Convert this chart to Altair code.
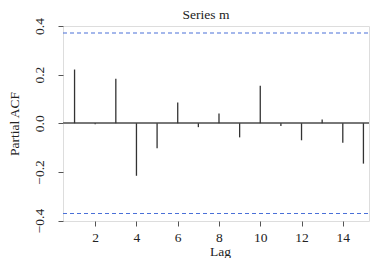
import altair as alt
import pandas as pd

lags = list(range(1, 16))
pacf_vals = [0.221, -0.004, 0.183, -0.216, -0.103, 0.085, -0.016, 0.040,
             -0.058, 0.154, -0.011, -0.070, 0.015, -0.080, -0.166]
conf_limit = 0.371
x_ticks = [2, 4, 6, 8, 10, 12, 14]
y_ticks = [-0.4, -0.2, 0.0, 0.2, 0.4]
title_text = ["Series m"]

df = pd.DataFrame({"lag": lags, "pacf": pacf_vals, "zero": [0.0] * len(lags)})
ci = pd.DataFrame({"c": [conf_limit, -conf_limit]})
tdf = pd.DataFrame({"t": title_text})

FONT = "Liberation Serif"
W, H = 306, 195
xs = alt.Scale(domain=[0.44, 15.27], nice=False, zero=False)
ys = alt.Scale(domain=[-0.402, 0.4], nice=False, zero=False)

xaxis = alt.Axis(values=x_ticks, title="Lag", grid=False, domain=False,
                 tickSize=5, tickColor="#555", tickWidth=1,
                 labelPadding=15, labelBaseline="alphabetic", labelFontSize=13.5,
                 labelFont=FONT, labelColor="#222", titleFont=FONT,
                 titleFontSize=13.5, titleFontWeight="normal", titleColor="#222",
                 titleBaseline="alphabetic", titleY=34.5, titleX=157)
yaxis = alt.Axis(values=y_ticks, title="Partial ACF", grid=False, domain=False,
                 tickSize=5, tickColor="#555", tickWidth=1, format=".1f",
                 labelAngle=270, labelAlign="center", labelBaseline="alphabetic",
                 labelPadding=15, labelFontSize=13.5, labelFont=FONT, labelColor="#222",
                 titleFont=FONT, titleFontSize=13.5, titleFontWeight="normal",
                 titleColor="#222", titleAngle=270, titleAlign="center",
                 titleBaseline="alphabetic", titleX=-45, titleY=97.5)

spikes = alt.Chart(df).mark_rule(color="#333", strokeWidth=1.3).encode(
    x=alt.X("lag:Q", scale=xs, axis=xaxis),
    y=alt.Y("zero:Q", scale=ys, axis=yaxis),
    y2="pacf:Q",
)
zero_line = alt.Chart(df).mark_rule(color="#777", strokeWidth=1.2).encode(
    y=alt.Y("zero:Q", scale=ys),
    x=alt.value(0), x2=alt.value(W),
)
ci_lines = alt.Chart(ci).mark_rule(color="#4a70d8", strokeWidth=1.1,
                                    strokeDash=[4, 3]).encode(
    y=alt.Y("c:Q", scale=ys),
    x=alt.value(0), x2=alt.value(W),
)
title = alt.Chart(tdf).mark_text(font=FONT, fontSize=13.5, color="#222",
                                 baseline="alphabetic", align="center").encode(
    text="t:N", x=alt.value(143), y=alt.value(-7),
)

chart = alt.layer(zero_line, ci_lines, spikes, title).properties(
    width=W, height=H,
    padding={"left": 55, "top": 18, "right": 1, "bottom": 37},
    autosize=alt.AutoSizeParams(type="none"),
).configure_view(stroke="#666", strokeWidth=1.3).configure(background="white")

chart.save("out.html", embed_options={"renderer": "svg", "actions": False})
